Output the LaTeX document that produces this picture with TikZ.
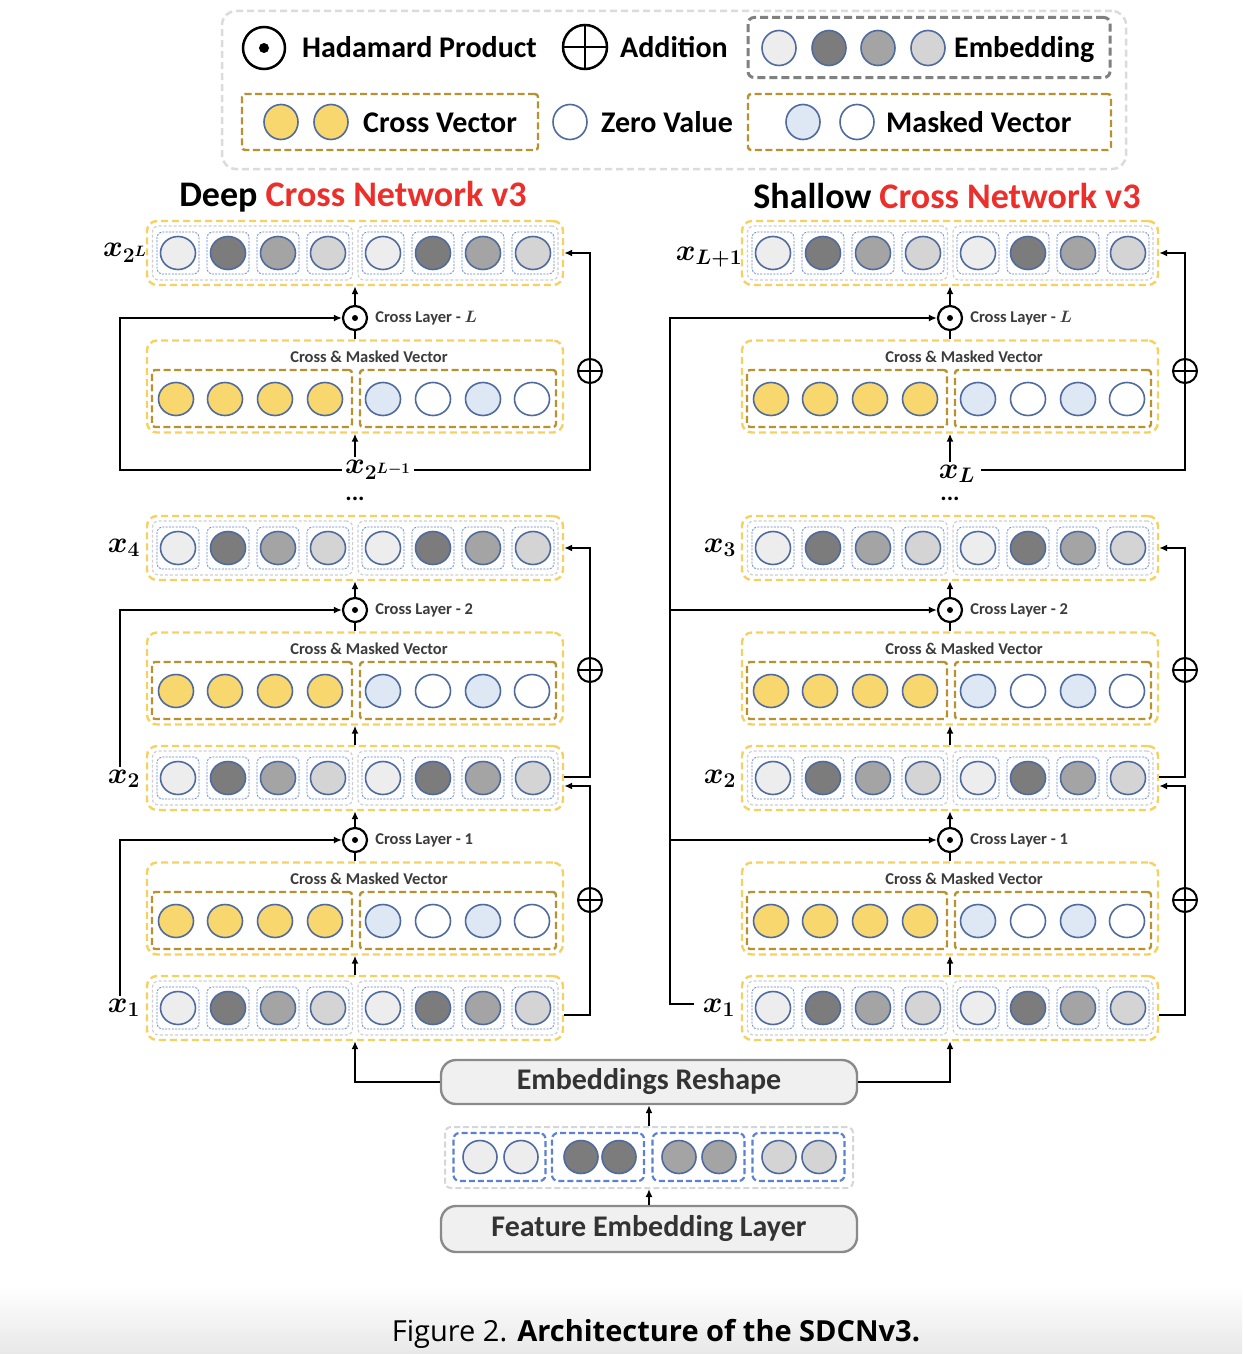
\RequirePackage{fix-cm}
\documentclass[tikz,border=0pt]{standalone}
\usepackage[no-math]{fontspec}
\setmainfont{Carlito}
\newfontfamily\capfont{Open Sans}
\usetikzlibrary{arrows.meta,shapes.geometric,calc}
\definecolor{yel}{HTML}{F7D160}
\definecolor{gold}{HTML}{B8922E}
\definecolor{cy}{HTML}{F8D76E}
\definecolor{mb}{HTML}{DEE8F4}
\definecolor{cblue}{HTML}{4E6A9E}
\definecolor{sqblue}{HTML}{5B82D1}
\definecolor{grpgray}{HTML}{CFCFCF}
\definecolor{e1}{HTML}{EDEDED}
\definecolor{e2}{HTML}{7C7C7C}
\definecolor{e3}{HTML}{A4A4A4}
\definecolor{e4}{HTML}{D4D4D4}
\definecolor{tred}{HTML}{EC2F2B}
\definecolor{bfill}{HTML}{F0F0F0}
\definecolor{bdraw}{HTML}{8A8A8A}
\definecolor{dtxt}{HTML}{333333}
\definecolor{stxt}{HTML}{3C3C3C}

\newcommand\EmbRow[3]{%
  \node[rowbox, minimum width=416pt, minimum height=64pt] (#1) at (#2,#3) {};
  \node[grpbox, minimum width=200pt, minimum height=54pt] (#1ga) at ({#2-102.5},#3) {};
  \node[grpbox, minimum width=200pt, minimum height=54pt] (#1gb) at ({#2+103},#3) {};
  \foreach \dx/\col [count=\k] in {-177/e1,-127/e2,-77/e3,-27/e4,28/e1,78/e2,128/e3,178/e4}{
    \node[sqbox] (#1s\k) at ({#2+\dx},#3) {};
    \node[cir, fill=\col] (#1c\k) at ({#2+\dx},#3) {};
  }%
}
\newcommand\CMBlock[3]{%
  \node[rowbox, minimum width=416pt, minimum height=92pt] (#1) at (#2,#3) {};
  \node[smtxt] (#1t) at ({#2+14},{#3-29.5}) {Cross \& Masked Vector};
  \node[goldbox, minimum width=200pt, minimum height=57pt] (#1ga) at ({#2-103},{#3+12}) {};
  \node[goldbox, minimum width=196pt, minimum height=57pt] (#1gb) at ({#2+103},{#3+12}) {};
  \foreach \dx/\col [count=\k] in {-179/cy,-130/cy,-80/cy,-30/cy,28/mb,78/white,128/mb,177/white}{
    \node[cir, fill=\col] (#1c\k) at ({#2+\dx},{#3+12.5}) {};
  }%
}

\begin{document}
\begin{tikzpicture}[x=1pt,y=-1pt,
  cir/.style={ellipse, draw=cblue, line width=1.6pt, minimum width=35pt, minimum height=33pt, inner sep=0pt},
  lcir/.style={cir, minimum width=34pt, minimum height=35pt},
  sqbox/.style={draw=sqblue, line width=0.8pt, dash pattern=on 2pt off 1.3pt, rounded corners=5pt, minimum width=42pt, minimum height=42pt, inner sep=0pt},
  grpbox/.style={draw=grpgray, line width=1.2pt, dash pattern=on 3pt off 2pt, rounded corners=6pt, inner sep=0pt},
  rowbox/.style={draw=yel, line width=2.4pt, dash pattern=on 7pt off 4pt, rounded corners=10pt, inner sep=0pt},
  goldbox/.style={draw=gold, line width=2.4pt, dash pattern=on 7pt off 3.5pt, rounded corners=3pt, inner sep=0pt},
  bluebox/.style={draw=sqblue, line width=2.2pt, dash pattern=on 6pt off 3pt, rounded corners=6pt, inner sep=0pt},
  hadm/.style={circle, draw=black, line width=2.2pt, fill=white, minimum size=24pt, inner sep=0pt,
    path picture={\fill[black] (path picture bounding box.center) circle (3pt);}},
  addm/.style={circle, draw=black, line width=2pt, fill=white, minimum size=24pt, inner sep=0pt,
    path picture={\draw[line width=2pt] (path picture bounding box.north) -- (path picture bounding box.south) (path picture bounding box.west) -- (path picture bounding box.east);}},
  conn/.style={draw=black, line width=2.2pt},
  arr/.style={conn, -{Latex[length=8pt,width=7pt]}},
  smtxt/.style={font=\fontsize{16.5}{18}\selectfont\bfseries, text=stxt, inner sep=0pt},
  legtxt/.style={font=\fontsize{30}{32}\selectfont\bfseries, inner sep=0pt, anchor=base west},
  ttl/.style={font=\fontsize{36}{38}\selectfont\bfseries, inner sep=0pt, anchor=base},
  mlbl/.style={font=\fontsize{30}{32}\selectfont\boldmath, inner sep=0pt},
  dotsty/.style={font=\fontsize{24}{24}\selectfont\bfseries, inner sep=0pt},
  graybox/.style={draw=bdraw, fill=bfill, line width=2.4pt, rounded corners=15pt, minimum width=416pt, inner sep=0pt, font=\fontsize{30}{32}\selectfont\bfseries, text=dtxt}
]
\fill[white] (0,0) rectangle (1242,1354);
\shade[top color=white, bottom color=black!9] (0,1285) rectangle (1242,1354);
\useasboundingbox (0,0) rectangle (1242,1354);

% ---------------- legend ----------------
\node[draw=black!14, line width=2.5pt, dash pattern=on 7pt off 4pt, rounded corners=14pt, minimum width=904pt, minimum height=158pt] (legend) at (674,90) {};
\node[circle, draw=black, line width=2.5pt, minimum size=42pt, inner sep=0pt,
  path picture={\fill[black] (path picture bounding box.center) circle (5pt);}] (lgH) at (264,48) {};
\node[legtxt] (lgHt) at (302,58) {Hadamard Product};
\node[circle, draw=black, line width=2.5pt, minimum size=44pt, inner sep=0pt,
  path picture={\draw[line width=2.5pt] (path picture bounding box.north) -- (path picture bounding box.south) (path picture bounding box.west) -- (path picture bounding box.east);}] (lgA) at (585,47) {};
\node[legtxt] (lgAt) at (620,58) {Addition};
\node[draw=black!50, line width=3pt, dash pattern=on 8pt off 4pt, rounded corners=6pt, minimum width=362pt, minimum height=60pt, inner sep=0pt] (lgE) at (929,47.5) {};
\foreach \xx/\col [count=\k] in {779/e1,829/e2,878/e3,928/e4}{
  \node[lcir, fill=\col] (lgEc\k) at (\xx,48) {};
}
\node[legtxt] (lgEt) at (954,58) {Embedding};
\node[goldbox, minimum width=296pt, minimum height=56pt] (lgC) at (390,122) {};
\node[lcir, fill=cy] (lgCc1) at (281,122) {};
\node[lcir, fill=cy] (lgCc2) at (331,122) {};
\node[legtxt] (lgCt) at (363,132) {Cross Vector};
\node[lcir, fill=white] (lgZ) at (570,122) {};
\node[legtxt] (lgZt) at (601,132) {Zero Value};
\node[goldbox, minimum width=363pt, minimum height=56pt] (lgM) at (929.5,122) {};
\node[lcir, fill=mb] (lgMc1) at (803,122) {};
\node[lcir, fill=white] (lgMc2) at (857,122) {};
\node[legtxt] (lgMt) at (886,132) {Masked Vector};

% ---------------- titles ----------------
\node[ttl] (ttlL) at (353,206) {Deep \textcolor{tred}{Cross Network v3}};
\node[ttl] (ttlR) at (947,208) {Shallow \textcolor{tred}{Cross Network v3}};

% ---------------- left column ----------------
\EmbRow{rLt}{355}{253}
\EmbRow{rL4}{355}{548}
\EmbRow{rL2}{355}{778}
\EmbRow{rL1}{355}{1008}
\CMBlock{cmLt}{355}{386.5}
\CMBlock{cmL2}{355}{678.5}
\CMBlock{cmL1}{355}{908.5}
\node[hadm] (hLt) at (355,318) {};
\node[hadm] (hL2) at (355,610) {};
\node[hadm] (hL1) at (355,840) {};
\node[smtxt, anchor=west] (clLt) at ([xshift=7pt]hLt.east) {Cross Layer - {\boldmath$L$}};
\node[smtxt, anchor=west] (clL2) at ([xshift=7pt]hL2.east) {Cross Layer - 2};
\node[smtxt, anchor=west] (clL1) at ([xshift=7pt]hL1.east) {Cross Layer - 1};
\node[mlbl] (lbLt) at (125,253) {$x_{2^L}$};
\node[mlbl] (lbLm) at (378,470) {$x_{2^{L-1}}$};
\node[mlbl] (lbL4) at (124,548) {$x_{4}$};
\node[mlbl] (lbL2) at (124,779) {$x_{2}$};
\node[mlbl] (lbL1) at (124,1008) {$x_{1}$};
\node[dotsty] (dotsL) at (355,499) {...};
\coordinate (busLl) at (120,0);
\coordinate (busLr) at (590,0);
\coordinate (pLmW) at ([xshift=-3pt]lbLm.west);
\coordinate (pLmE) at ([xshift=3pt]lbLm.east);
\coordinate (pLmN) at ([yshift=3pt]lbLm.north);
\coordinate (pL2N) at ([yshift=3pt]lbL2.north);
\coordinate (pL1N) at ([yshift=3pt]lbL1.north);
\coordinate (pL2o) at ([yshift=1pt]rL2.east);
\coordinate (pL2i) at ([yshift=-8pt]rL2.east);
\coordinate (pL1o) at ([yshift=-7pt]rL1.east);

\draw[arr] (hLt.north) -- (rLt.south);
\draw[conn] (cmLt.north) -- (hLt.south);
\draw[arr] (pLmN -| cmLt.south) -- (cmLt.south);
\draw[arr] (pLmW) -- (pLmW -| busLl) |- (hLt.west);
\draw[arr] (pLmE) -- (pLmE -| busLr) |- (rLt.east);

\draw[arr] (hL2.north) -- (rL4.south);
\draw[conn] (cmL2.north) -- (hL2.south);
\draw[arr] (rL2.north) -- (cmL2.south);
\draw[arr] (pL2N -| busLl) |- (hL2.west);
\draw[arr] (pL2o) -- (pL2o -| busLr) |- (rL4.east);

\draw[arr] (hL1.north) -- (rL2.south);
\draw[conn] (cmL1.north) -- (hL1.south);
\draw[arr] (rL1.north) -- (cmL1.south);
\draw[arr] (pL1N -| busLl) |- (hL1.west);
\draw[arr] (pL1o) -- (pL1o -| busLr) |- (pL2i);

\node[addm] (aLt) at (590,371) {};
\node[addm] (aL2) at (590,670) {};
\node[addm] (aL1) at (590,900) {};

% ---------------- right column ----------------
\EmbRow{rRt}{950}{253}
\EmbRow{rR3}{950}{548}
\EmbRow{rR2}{950}{778}
\EmbRow{rR1}{950}{1008}
\CMBlock{cmRt}{950}{386.5}
\CMBlock{cmR2}{950}{678.5}
\CMBlock{cmR1}{950}{908.5}
\node[hadm] (hRt) at (950,318) {};
\node[hadm] (hR2) at (950,610) {};
\node[hadm] (hR1) at (950,840) {};
\node[smtxt, anchor=west] (clRt) at ([xshift=7pt]hRt.east) {Cross Layer - {\boldmath$L$}};
\node[smtxt, anchor=west] (clR2) at ([xshift=7pt]hR2.east) {Cross Layer - 2};
\node[smtxt, anchor=west] (clR1) at ([xshift=7pt]hR1.east) {Cross Layer - 1};
\node[mlbl] (lbRt) at (709,257) {$x_{L+1}$};
\node[mlbl] (lbRL) at (957,474) {$x_{L}$};
\node[mlbl] (lbR3) at (720,548) {$x_{3}$};
\node[mlbl] (lbR2) at (720,779) {$x_{2}$};
\node[mlbl] (lbR1) at (719,1008) {$x_{1}$};
\node[dotsty] (dotsR) at (950,499) {...};
\coordinate (busRl) at (670,0);
\coordinate (busRr) at (1185,0);
\coordinate (pRLN) at ([yshift=3pt]lbRL.north);
\coordinate (pRLE) at ([shift={(6pt,4pt)}]lbRL.east);
\coordinate (pR1W) at ([shift={(-9pt,4pt)}]lbR1.west);
\coordinate (pR2o) at ([yshift=1pt]rR2.east);
\coordinate (pR2i) at ([yshift=-8pt]rR2.east);
\coordinate (pR1o) at ([yshift=-7pt]rR1.east);

\draw[arr] (hRt.north) -- (rRt.south);
\draw[conn] (cmRt.north) -- (hRt.south);
\draw[arr] (pRLN -| cmRt.south) -- (cmRt.south);
\draw[arr] (pRLE) -- (pRLE -| busRr) |- (rRt.east);

\draw[arr] (hR2.north) -- (rR3.south);
\draw[conn] (cmR2.north) -- (hR2.south);
\draw[arr] (rR2.north) -- (cmR2.south);
\draw[arr] (pR2o) -- (pR2o -| busRr) |- (rR3.east);

\draw[arr] (hR1.north) -- (rR2.south);
\draw[conn] (cmR1.north) -- (hR1.south);
\draw[arr] (rR1.north) -- (cmR1.south);
\draw[arr] (pR1o) -- (pR1o -| busRr) |- (pR2i);

\draw[arr] (pR1W) -- (pR1W -| busRl) |- (hRt.west);
\draw[arr] (busRl |- hR2) -- (hR2.west);
\draw[arr] (busRl |- hR1) -- (hR1.west);

\node[addm] (aRt) at (1185,371) {};
\node[addm] (aR2) at (1185,670) {};
\node[addm] (aR1) at (1185,900) {};

% ---------------- bottom ----------------
\node[graybox, minimum height=44pt] (reshape) at (649,1082) {Embeddings Reshape};
\node[draw=black!16, line width=2pt, dash pattern=on 6pt off 3pt, rounded corners=6pt, minimum width=408pt, minimum height=61pt, inner sep=0pt] (embg) at (649,1157.5) {};
\foreach \xx [count=\k] in {499.5,598,698.5,798.5}{
  \node[bluebox, minimum width=92pt, minimum height=48pt] (embb\k) at (\xx,1157) {};
}
\foreach \xx/\col [count=\k] in {480/e1,521/e1,581/e2,619/e2,679/e3,719/e3,779/e4,819/e4}{
  \node[cir, fill=\col, minimum width=34pt] (embc\k) at (\xx,1157) {};
}
\node[graybox, minimum height=46pt] (feat) at (649,1229) {Feature Embedding Layer};

\draw[arr] (reshape.west) -| (rL1.south);
\draw[arr] (reshape.east) -| (rR1.south);
\draw[arr] (embg.north) -- (reshape.south);
\draw[arr] (feat.north) -- (embg.south);

% ---------------- caption ----------------
\node[font=\capfont\fontsize{29}{32}\selectfont, anchor=base, inner sep=0pt] (cap) at (656,1341) {Figure 2. \textbf{Architecture of the SDCNv3.}};
\end{tikzpicture}
\end{document}
